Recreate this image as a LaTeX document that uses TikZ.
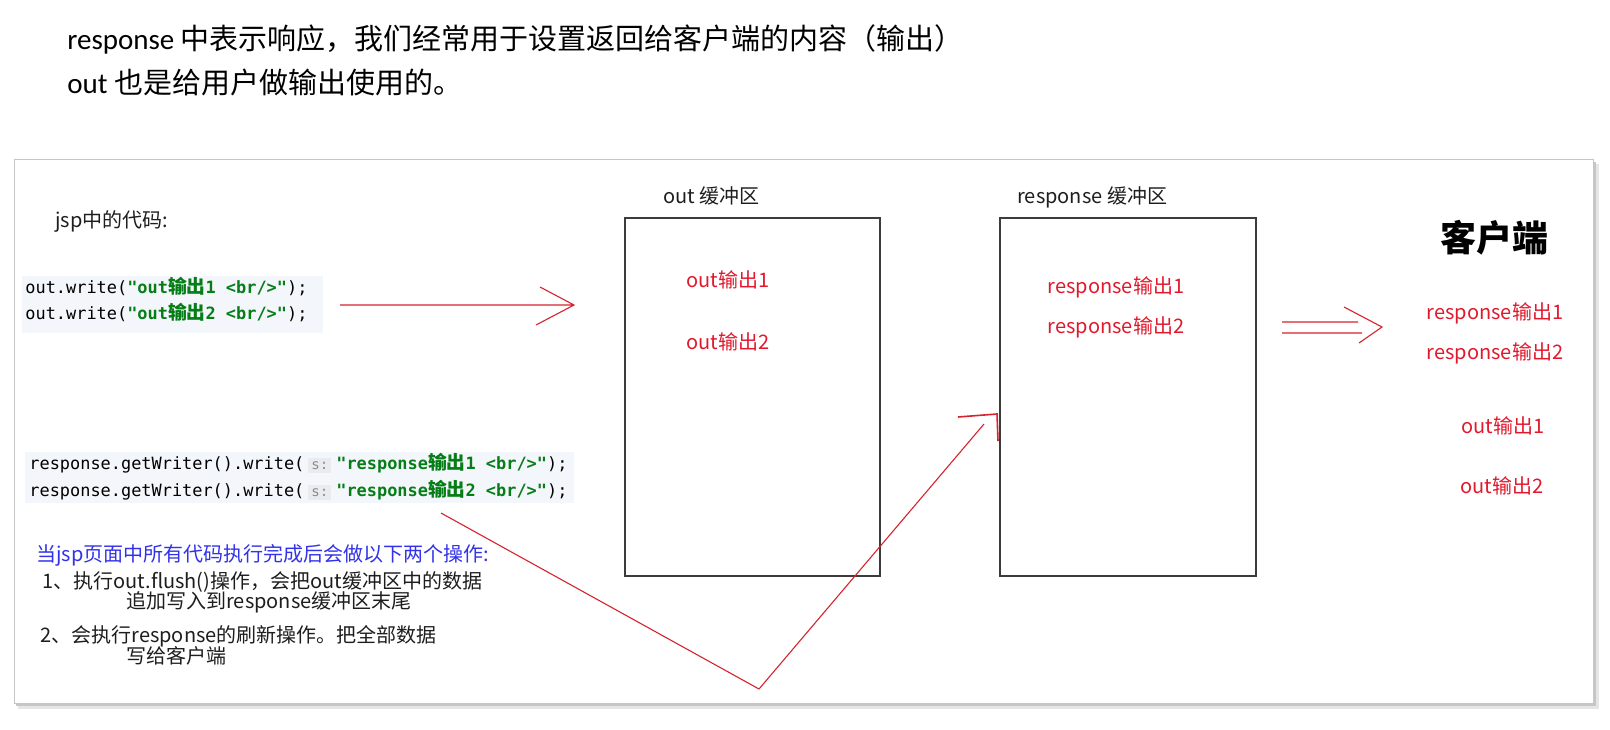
\documentclass[tikz,border=0pt]{standalone}
\usepackage{fontspec}
\setmainfont{Noto Sans CJK SC}
\newfontfamily\latinfont{Carlito}
\newfontfamily\codefont[Scale=0.9]{DejaVu Sans Mono}
\definecolor{strgreen}{RGB}{6,125,23}
\definecolor{redtxt}{RGB}{225,25,45}
\definecolor{redline}{RGB}{215,35,45}
\definecolor{bluetxt}{RGB}{50,50,235}
\definecolor{codebg}{RGB}{243,246,250}
\definecolor{hintbg}{RGB}{234,235,238}
\definecolor{hintfg}{RGB}{140,140,140}
\definecolor{boxgray}{RGB}{60,60,60}
\definecolor{inktxt}{RGB}{30,30,30}
\newcommand\jstr[1]{\textcolor{strgreen}{\bfseries #1}}
\newcommand\jcn[1]{\textcolor{strgreen}{\normalfont\bfseries #1}}
\newcommand\jhint[1]{\hspace{2pt}{\setlength\fboxsep{1.5pt}\colorbox{hintbg}{\textcolor{hintfg}{\fontsize{7.8pt}{8pt}\selectfont #1}}}\hspace{2.5pt}}
\tikzset{
  txt/.style={inner sep=0pt, anchor=west, text=inktxt, font=\fontsize{10pt}{12pt}\selectfont},
  headtxt/.style={inner sep=0pt, anchor=west, font=\fontsize{14.5pt}{17pt}\selectfont},
  redtxt/.style={inner sep=0pt, text=redtxt, font=\fontsize{10pt}{12pt}\selectfont},
  code/.style={inner sep=0pt, anchor=west, font=\codefont\fontsize{9.4pt}{11pt}\selectfont},
  buffer/.style={draw=boxgray, line width=0.75pt, anchor=north west, inner sep=0pt},
  redline/.style={draw=redline, line width=0.55pt},
}
\begin{document}
\begin{tikzpicture}[x=0.5pt, y=-0.5pt]
  \useasboundingbox (0,0) rectangle (1610,729);
  % heading
  \node[headtxt] (head1) at (67,39) {{\latinfont response} 中表示响应，我们经常用于设置返回给客户端的内容（输出）};
  \node[headtxt] (head2) at (67,82) {{\latinfont out} 也是给用户做输出使用的。};
  % panel with shadow
  \fill[gray!20] (18,164) rectangle (1599,709);
  \fill[gray!45] (16,162) rectangle (1596,706);
  \filldraw[fill=white, draw=gray!45, line width=0.4pt] (14,159) rectangle (1593,703);
  % code on the left
  \node[txt] (jsp) at (55,221) {jsp中的代码:};
  \fill[codebg] (22,276) rectangle (323,333);
  \node[code] (w1) at (25,287) {out.write(\jstr{"out}\jcn{输出}\jstr{1 <br/>"});};
  \node[code] (w2) at (25,313) {out.write(\jstr{"out}\jcn{输出}\jstr{2 <br/>"});};
  \fill[codebg] (25,452) rectangle (574,503);
  \node[code] (r1) at (29,463) {response.getWriter().write(\jhint{s:}\jstr{"response}\jcn{输出}\jstr{1 <br/>"});};
  \node[code] (r2) at (29,490) {response.getWriter().write(\jhint{s:}\jstr{"response}\jcn{输出}\jstr{2 <br/>"});};
  \node[txt, text=bluetxt] (note) at (36,555) {当jsp页面中所有代码执行完成后会做以下两个操作:};
  \node[txt] (s1a) at (42,582) {1、执行out.flush()操作，会把out缓冲区中的数据};
  \node[txt] (s1b) at (126,602) {追加写入到response缓冲区末尾};
  \node[txt] (s2a) at (40,636) {2、会执行response的刷新操作。把全部数据};
  \node[txt] (s2b) at (126,656) {写给客户端};
  % buffers
  \node[buffer, minimum width=127.5pt, minimum height=179pt] (outbuf) at (624,217) {};
  \node[txt] (outlbl) at (663,196) {out 缓冲区};
  \node[redtxt] (ob1) at (728,280) {out输出1};
  \node[redtxt] (ob2) at (728,342) {out输出2};
  \node[buffer, minimum width=128pt, minimum height=179pt] (respbuf) at (999,217) {};
  \node[txt] (resplbl) at (1017,197) {response 缓冲区};
  \node[redtxt] (rb1) at (1116,287) {response输出1};
  \node[redtxt] (rb2) at (1116,327) {response输出2};
  % client
  \node[inner sep=0pt, anchor=west, font=\fontsize{18pt}{20pt}\selectfont\bfseries] (client) at (1440,238) {客户端};
  \node[redtxt] (c1) at (1495,313) {response输出1};
  \node[redtxt] (c2) at (1495,353) {response输出2};
  \node[redtxt] (c3) at (1503,426) {out输出1};
  \node[redtxt] (c4) at (1502,486) {out输出2};
  % arrows
  \coordinate (os) at (340,305);
  \coordinate (ot) at (574,305);
  \draw[redline] (os) -- (ot) +(-34,-18) -- (ot) -- +(-38,20);
  \coordinate (d1) at (1282,322);
  \coordinate (d2) at (1282,333);
  \coordinate (dt) at (1382,327);
  \draw[redline] (d1) -- +(76,0) (d2) -- +(80,0) (dt) +(-38,-20) -- (dt) -- +(-23,16);
  \coordinate (fs) at (441,513);
  \coordinate (fv) at (759,689);
  \coordinate (fe) at (984,424);
  \coordinate (ft) at (997,414);
  \draw[redline] (fs) -- (fv) -- (fe);
  \draw[redline, line width=0.8pt] (ft) +(-39,3) -- (ft) -- +(1,27);
\end{tikzpicture}
\end{document}
